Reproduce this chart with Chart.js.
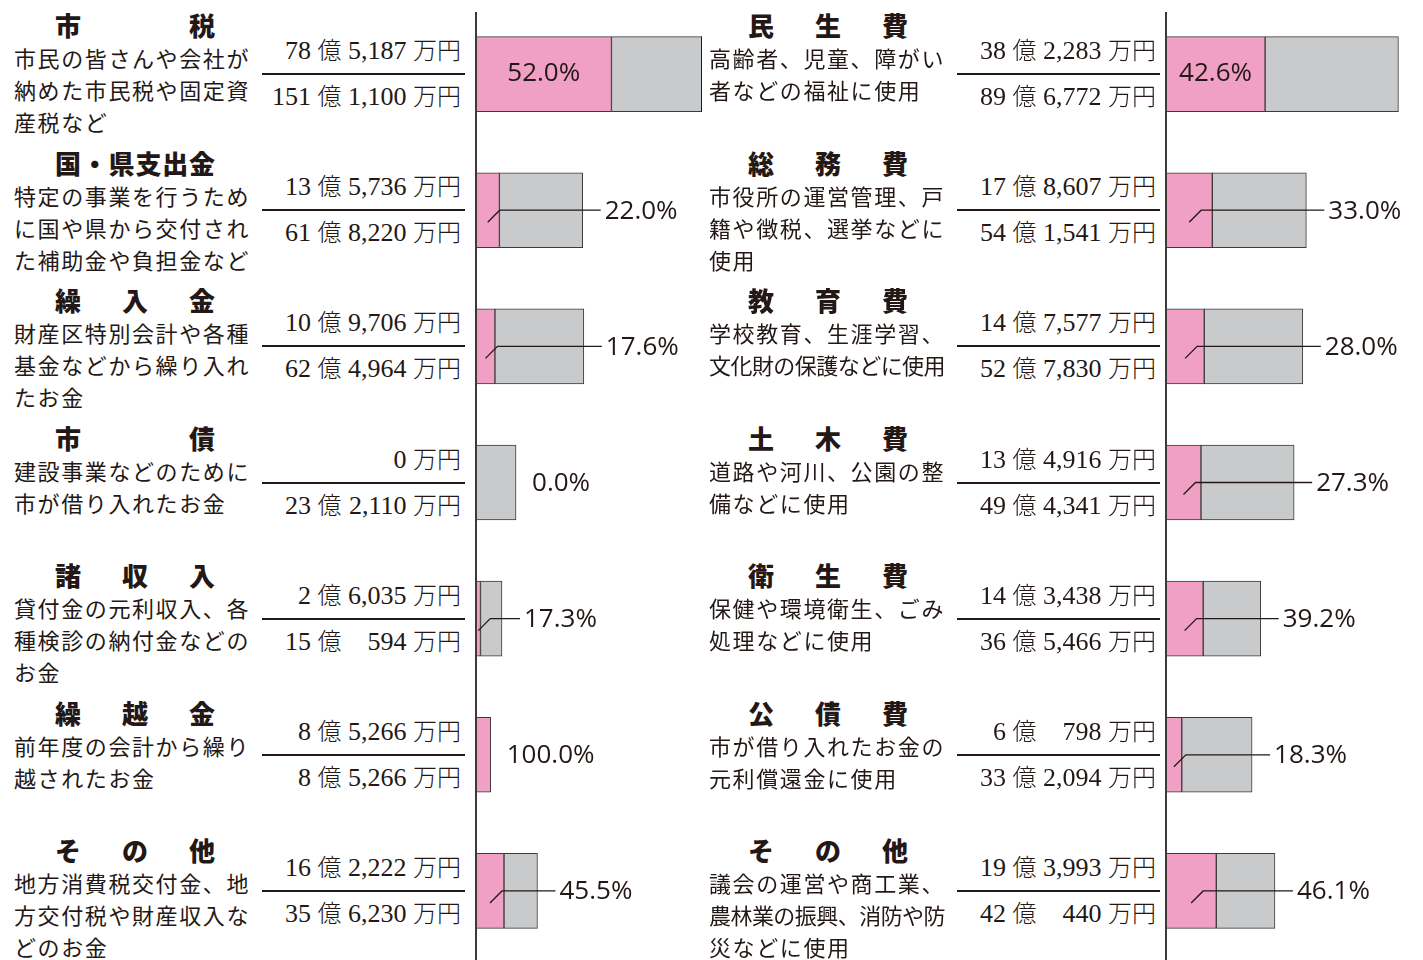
<!DOCTYPE html>
<html lang="ja">
<head>
<meta charset="utf-8">
<script src="https://cdn.jsdelivr.net/npm/chart.js@4.4.1/dist/chart.umd.min.js"></script>
<style>
body{margin:0;width:1423px;height:960px;background:#fff;overflow:hidden;position:relative;font-family:"Noto Sans CJK JP",sans-serif;color:#231815}
.title{position:absolute;width:160px;display:flex;justify-content:space-between;font-size:26px;font-weight:900;line-height:32px}
.desc{position:absolute;font-size:22px;line-height:32px;white-space:nowrap}
.frac{position:absolute;width:203px;height:0}
.frac .rule{position:absolute;left:0;right:0;top:-1px;height:2px;background:#231815}
.num{position:absolute;right:4px;font-family:"Liberation Serif","Noto Sans CJK JP",serif;font-size:26px;line-height:30px;white-space:nowrap}
.num .m{display:inline-block;min-width:2.25em;text-align:right}
.num .k{font-family:"Noto Sans CJK JP",sans-serif;font-size:24px;font-weight:300}
.chartbox{position:absolute;top:0;height:960px}
</style>
</head>
<body>
<div id="leftBox" class="chartbox" style="left:470px;width:240px"><canvas id="chartLeft"></canvas></div>
<div id="rightBox" class="chartbox" style="left:1160px;width:263px"><canvas id="chartRight"></canvas></div>
<script>
// 歳入 (万円)
const revenueNames = ['市税', '国・県支出金', '繰入金', '市債', '諸収入', '繰越金', 'その他'];
const revenueNotes = [
    ['市民の皆さんや会社が', '納めた市民税や固定資', '産税など'],
    ['特定の事業を行うため', 'に国や県から交付され', 'た補助金や負担金など'],
    ['財産区特別会計や各種', '基金などから繰り入れ', 'たお金'],
    ['建設事業などのために', '市が借り入れたお金'],
    ['貸付金の元利収入、各', '種検診の納付金などの', 'お金'],
    ['前年度の会計から繰り', '越されたお金'],
    ['地方消費税交付金、地', '方交付税や財産収入な', 'どのお金']
];
const revenuePart = [785187, 135736, 109706, 0, 26035, 85266, 162222];
const revenueTotal = [1511100, 618220, 624964, 232110, 150594, 85266, 356230];

// 歳出 (万円)
const spendNames = ['民生費', '総務費', '教育費', '土木費', '衛生費', '公債費', 'その他'];
const spendNotes = [
    ['高齢者、児童、障がい', '者などの福祉に使用'],
    ['市役所の運営管理、戸', '籍や徴税、選挙などに', '使用'],
    ['学校教育、生涯学習、', '文化財の保護などに使用'],
    ['道路や河川、公園の整', '備などに使用'],
    ['保健や環境衛生、ごみ', '処理などに使用'],
    ['市が借り入れたお金の', '元利償還金に使用'],
    ['議会の運営や商工業、', '農林業の振興、消防や防', '災などに使用']
];
const spendPart = [382283, 178607, 147577, 134916, 143438, 60798, 193993];
const spendTotal = [896772, 541541, 527830, 494341, 365466, 332094, 420440];

const PINK = '#f0a0c4';
const GRAY = '#c9cacc';
const INK = '#231815';

function yenHtml(v) {
    const oku = Math.floor(v / 10000);
    const man = v % 10000;
    const manTxt = man.toString().replace(/\B(?=(\d{3})+(?!\d))/g, ',');
    if (oku === 0) return manTxt + ' <span class="k">万円</span>';
    return oku + ' <span class="k">億</span> <span class="m">' + manTxt + '</span> <span class="k">万円</span>';
}

// 見出しと説明文
function addTexts(names, notes, titleX, descX) {
    names.forEach((name, i) => {
        const cy = 25 + i * 137.5;
        const t = document.createElement('div');
        t.className = 'title';
        t.style.left = titleX + 'px';
        t.style.top = (cy - 16) + 'px';
        name.split('').forEach(ch => {
            const s = document.createElement('span');
            s.textContent = ch;
            t.appendChild(s);
        });
        document.body.appendChild(t);

        notes[i].forEach((line, j) => {
            const d = document.createElement('div');
            d.className = 'desc';
            d.textContent = line;
            d.style.left = descX + 'px';
            d.style.top = (cy + 16 + j * 32) + 'px';
            // 長い行は約236pxに収める
            d.style.letterSpacing = Math.min(1.6, (236 - 22 * line.length) / line.length) + 'px';
            document.body.appendChild(d);
        });
    });
}

// 分数 (金額 / 総額)
function addFractions(chart, parts, totals, fracX) {
    parts.forEach((p, i) => {
        const y = chart.scales.y.getPixelForValue(i);
        const f = document.createElement('div');
        f.className = 'frac';
        f.style.left = fracX + 'px';
        f.style.top = y + 'px';
        f.innerHTML = '<div class="rule"></div>' +
            '<div class="num" style="top:-40px">' + yenHtml(p) + '</div>' +
            '<div class="num" style="top:6px">' + yenHtml(totals[i]) + '</div>';
        document.body.appendChild(f);
    });
}

// 縦軸とパーセント表示
const pctPlugin = {
    id: 'pctLabels',
    afterDatasetsDraw(chart, args, opts) {
        const ctx = chart.ctx;
        const area = chart.chartArea;
        const pinkMeta = chart.getDatasetMeta(0);
        const grayMeta = chart.getDatasetMeta(1);
        ctx.save();
        ctx.strokeStyle = INK;

        pinkMeta.data.forEach((pink, i) => {
            const gray = grayMeta.data[i];
            const y = pink.y;
            const left = pink.base;
            let end = Math.max(pink.x, gray.x);
            if (end > area.right) {
                // 目盛を超える棒の右端
                end = area.right;
                ctx.lineWidth = 1;
                ctx.beginPath();
                ctx.moveTo(end - 0.5, y - gray.height / 2);
                ctx.lineTo(end - 0.5, y + gray.height / 2);
                ctx.stroke();
            }
            const pct = opts.parts[i] / opts.totals[i] * 100;
            const txt = pct.toFixed(1) + '%';
            const pinkW = Math.min(pink.x, area.right) - left;

            ctx.font = '26px "Open Sans"';
            ctx.fillStyle = INK;
            ctx.textBaseline = 'middle';
            if (pinkW > 80) {
                ctx.textAlign = 'center';
                ctx.fillText(txt, left + pinkW / 2, y);
                return;
            }
            ctx.textAlign = 'left';
            if (pct > 0 && pct < 100) {
                const bx = left + pinkW / 2;
                const lx = end + 22;
                ctx.lineWidth = 1.3;
                ctx.beginPath();
                ctx.moveTo(bx, y + 12);
                ctx.lineTo(bx + 12, y);
                ctx.lineTo(lx - 4, y);
                ctx.stroke();
                ctx.fillText(txt, lx, y + 1);
            } else {
                ctx.fillText(txt, end + 16, y + 1);
            }
        });

        // 縦軸
        ctx.lineWidth = 2;
        ctx.strokeStyle = '#3e3a39';
        ctx.beginPath();
        ctx.moveTo(area.left, 12);
        ctx.lineTo(area.left, chart.height);
        ctx.stroke();
        ctx.restore();
    }
};

function makeChart(canvasId, names, parts, totals, xMax, padRight) {
    const ctx = document.getElementById(canvasId).getContext('2d');
    return new Chart(ctx, {
        type: 'bar',
        data: {
            labels: names,
            datasets: [
                {
                    data: parts.map(v => v / 10000),
                    backgroundColor: PINK,
                    borderColor: '#3e3a39',
                    borderWidth: 1,
                    borderSkipped: false,
                    barThickness: 75
                },
                {
                    data: totals.map((v, i) => (v - parts[i]) / 10000),
                    backgroundColor: GRAY,
                    borderColor: '#3e3a39',
                    borderWidth: 1,
                    borderSkipped: false,
                    barThickness: 75
                }
            ]
        },
        options: {
            indexAxis: 'y',
            responsive: true,
            maintainAspectRatio: false,
            animation: false,
            layout: { padding: { left: 6, right: padRight, top: 6, bottom: 1 } },
            scales: {
                x: { stacked: true, min: 0, max: xMax, display: false },
                y: { stacked: true, display: false }
            },
            plugins: {
                legend: { display: false },
                tooltip: { enabled: false },
                pctLabels: { parts: parts, totals: totals }
            }
        },
        plugins: [pctPlugin]
    });
}

addTexts(revenueNames, revenueNotes, 55, 14);
addTexts(spendNames, spendNotes, 748, 709);

const chartLeft = makeChart('chartLeft', revenueNames, revenuePart, revenueTotal, 131, 8);
const chartRight = makeChart('chartRight', spendNames, spendPart, spendTotal, 98, 3);

addFractions(chartLeft, revenuePart, revenueTotal, 262);
addFractions(chartRight, spendPart, spendTotal, 957);
</script>
</body>
</html>
